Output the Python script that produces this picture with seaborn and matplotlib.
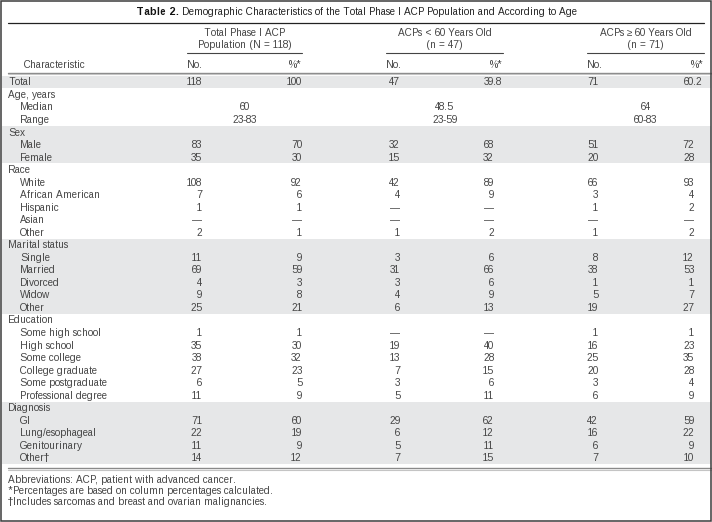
import matplotlib
matplotlib.use("Agg")
import matplotlib.pyplot as plt
from matplotlib.patches import Rectangle
import seaborn as sns

# table content
row_labels = ["Total", "Age, years", "Median", "Range", "Sex", "Male", "Female",
              "Race", "White", "African American", "Hispanic", "Asian", "Other",
              "Marital status", "Single", "Married", "Divorced", "Widow", "Other",
              "Education", "Some high school", "High school", "Some college",
              "College graduate", "Some postgraduate", "Professional degree",
              "Diagnosis", "GI", "Lung/esophageal", "Genitourinary", "Other\u2020"]
sections = ["Total", "Age, years", "Sex", "Race", "Marital status", "Education", "Diagnosis"]

total_no = ["118", "", "", "", "", "83", "35", "", "108", "7", "1", "\u2014", "2",
            "", "11", "69", "4", "9", "25", "", "1", "35", "38", "27", "6", "11",
            "", "71", "22", "11", "14"]
total_pct = ["100", "", "", "", "", "70", "30", "", "92", "6", "1", "\u2014", "1",
             "", "9", "59", "3", "8", "21", "", "1", "30", "32", "23", "5", "9",
             "", "60", "19", "9", "12"]
young_no = ["47", "", "", "", "", "32", "15", "", "42", "4", "\u2014", "\u2014", "1",
            "", "3", "31", "3", "4", "6", "", "\u2014", "19", "13", "7", "3", "5",
            "", "29", "6", "5", "7"]
young_pct = ["39.8", "", "", "", "", "68", "32", "", "89", "9", "\u2014", "\u2014", "2",
             "", "6", "66", "6", "9", "13", "", "\u2014", "40", "28", "15", "6", "11",
             "", "62", "12", "11", "15"]
old_no = ["71", "", "", "", "", "51", "20", "", "66", "3", "1", "\u2014", "1",
          "", "8", "38", "1", "5", "19", "", "1", "16", "25", "20", "3", "6",
          "", "42", "16", "6", "7"]
old_pct = ["60.2", "", "", "", "", "72", "28", "", "93", "4", "2", "\u2014", "2",
           "", "12", "53", "1", "7", "27", "", "1", "23", "35", "28", "4", "9",
           "", "59", "22", "9", "10"]

age_median = ["60", "48.5", "64"]
age_range = ["23-83", "23-59", "60-83"]

group_line1 = ["Total Phase I ACP", "ACPs < 60 Years Old", "ACPs \u2265 60 Years Old"]
group_line2 = ["Population (N = 118)", "(n = 47)", "(n = 71)"]

title_bold = "Table 2."
title_rest = " Demographic Characteristics of the Total Phase I ACP Population and According to Age"
footnotes = ["Abbreviations: ACP, patient with advanced cancer.",
             "*Percentages are based on column percentages calculated.",
             "\u2020Includes sarcomas and breast and ovarian malignancies."]

sns.set_theme(style="white")
plt.rcParams['font.family'] = ['Liberation Sans', 'DejaVu Sans']
plt.rcParams['text.hinting_factor'] = 1

W, H = 712, 522
fig = plt.figure(figsize=(W / 100, H / 100), dpi=100)
ax = fig.add_axes([0, 0, 1, 1])
ax.set_xlim(0, W)
ax.set_ylim(H, 0)
ax.axis('off')

fs = 7.0
txt = '#454545'
band = '#e6e7e8'

y0, dy = 82, 12.53
rows_y = [y0 + dy * i for i in range(len(row_labels))]
base = 3.4  # baseline offset from row centre

# shaded sections (every other one)
sec_idx = [i for i, lab in enumerate(row_labels) if lab in sections]
sec_idx.append(len(row_labels))
for k in range(len(sections)):
    if k % 2 == 0:
        a, b = sec_idx[k], sec_idx[k + 1] - 1
        top = rows_y[a] - dy / 2
        ax.add_patch(Rectangle((1.5, top), W - 3, rows_y[b] - rows_y[a] + dy,
                               color=band, lw=0, zorder=0))

# column geometry
group_left = [187, 386, 587]
group_right = [302, 503, 704]
no_right = [202, 400, 598]
pct_right = [302, 494, 694]
columns_no = [total_no, young_no, old_no]
columns_pct = [total_pct, young_pct, old_pct]

fig.canvas.draw()
r = fig.canvas.get_renderer()


def text_width(s, **kw):
    t = ax.text(0, 0, s, fontsize=fs, **kw)
    w = t.get_window_extent(r).width
    t.remove()
    return w


# title
t1 = ax.text(0, 15, title_bold, fontsize=fs, weight='bold', color='#111111', va='baseline')
t2 = ax.text(0, 15, title_rest, fontsize=fs, color='#222222', va='baseline')
w1 = t1.get_window_extent(r).width
w2 = t2.get_window_extent(r).width
xs = round(W / 2 - (w1 + w2) / 2)
t1.set_x(xs)
t2.set_x(xs + w1)
ax.plot([8, 704], [23, 23], color='#222222', lw=0.9)

# group headers
for g in range(3):
    cx = (group_left[g] + group_right[g]) / 2
    ax.text(cx, 36, group_line1[g], fontsize=fs, color=txt, ha='center', va='baseline')
    ax.text(cx, 47.5, group_line2[g], fontsize=fs, color=txt, ha='center', va='baseline')
    ax.plot([group_left[g], group_right[g]], [52.5, 52.5], color='#444444', lw=0.8)
    ax.text(group_left[g], 68, "No.", fontsize=fs, color=txt, ha='left', va='baseline')
    ax.text(group_right[g], 68, "%*", fontsize=fs, color=txt, ha='right', va='baseline')
ax.text(24, 68, "Characteristic", fontsize=fs, color=txt, ha='left', va='baseline')

# header and bottom rules
for yy in (73.5, 469):
    ax.plot([8, 712], [yy - 0.7, yy - 0.7], color='#8a8a8a', lw=1.0)
    ax.plot([8, 712], [yy + 0.8, yy + 0.8], color='#c4c4c4', lw=0.8)

# body
for i, lab in enumerate(row_labels):
    yb = round(rows_y[i] + base)
    x = 8 if lab in sections else 20
    ax.text(x, yb, lab, fontsize=fs, color=txt, ha='left', va='baseline')
    for g in range(3):
        v = columns_no[g][i]
        if v:
            ax.text(no_right[g], yb, v, fontsize=fs, color=txt, ha='right', va='baseline')
        p = columns_pct[g][i]
        if p:
            xr = pct_right[g]
            if '.' in p:
                xr += text_width('.' + p.split('.')[1])
            ax.text(xr, yb, p, fontsize=fs, color=txt, ha='right', va='baseline')

# median / range spanning both columns of each group
i_med = row_labels.index("Median")
i_rng = row_labels.index("Range")
for g in range(3):
    cx = (group_left[g] + group_right[g]) / 2
    ax.text(cx, round(rows_y[i_med] + base), age_median[g], fontsize=fs, color=txt, ha='center', va='baseline')
    ax.text(cx, round(rows_y[i_rng] + base), age_range[g], fontsize=fs, color=txt, ha='center', va='baseline')

# footnotes
for k, note in enumerate(footnotes):
    ax.text(8, 483 + 11 * k, note, fontsize=fs, color=txt, ha='left', va='baseline')

# outer frame
ax.add_patch(Rectangle((0.75, 0.75), W - 1.5, H - 1.5, fill=False, ec='#3c3c3c', lw=1.1, zorder=5))

fig.savefig('out.png', dpi=100)
